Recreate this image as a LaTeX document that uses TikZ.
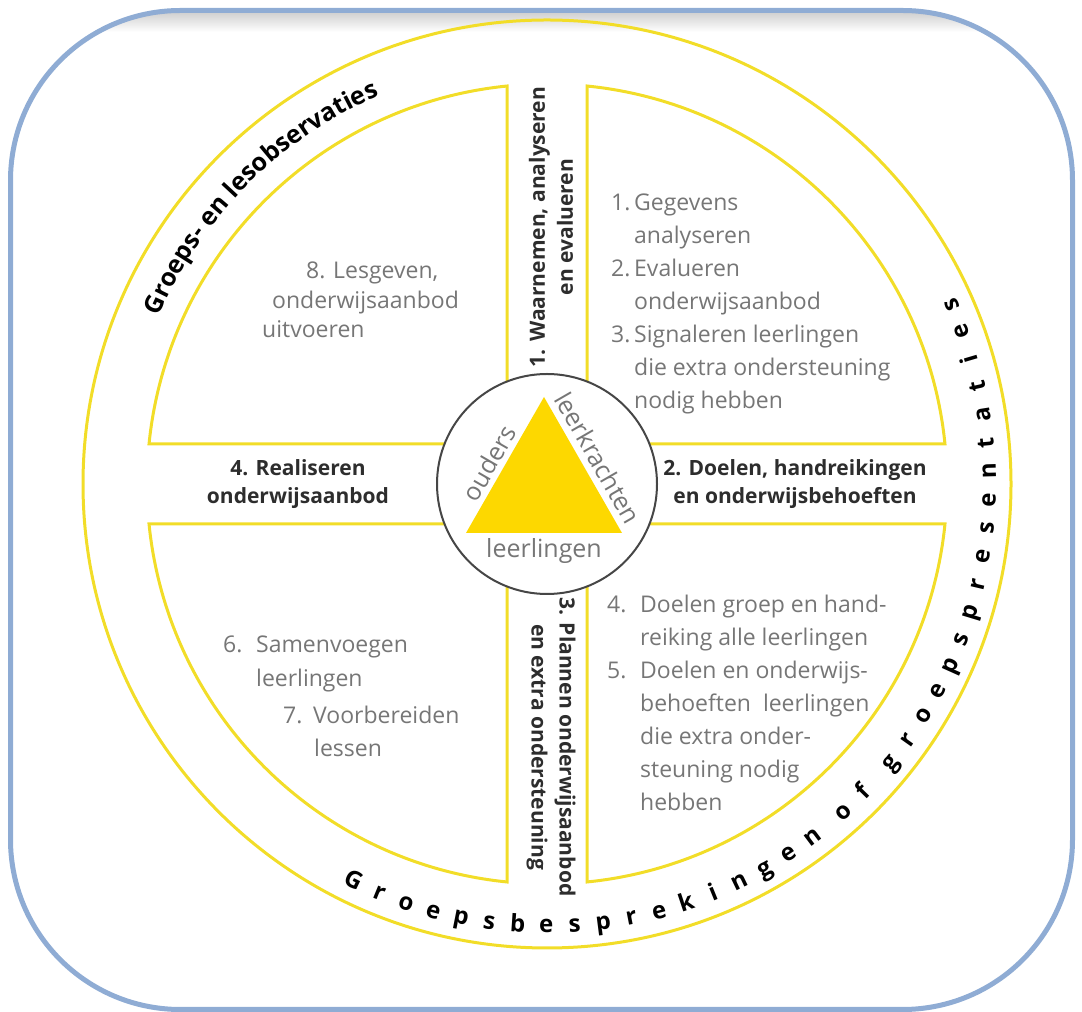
\documentclass[tikz,border=0pt]{standalone}
\usepackage{fontspec}
\setmainfont{Open Sans}
\usetikzlibrary{calc,decorations.text}
\definecolor{frameblue}{RGB}{143,172,212}
\definecolor{ringyellow}{RGB}{242,221,40}
\definecolor{triyellow}{RGB}{253,216,0}
\definecolor{greytext}{RGB}{118,118,118}
\definecolor{darktext}{RGB}{45,45,45}
\definecolor{hubline}{RGB}{70,70,70}
\begin{document}
\begin{tikzpicture}[x=1pt,y=1pt,
  yline/.style={draw=ringyellow, line width=3pt},
  gtxt/.style={text=greytext, font=\fontsize{23}{32}\selectfont, inner sep=0pt, anchor=base west},
  bandlbl/.style={text=darktext, font=\bfseries\fontsize{21}{28}\selectfont, align=center, inner sep=0pt},
  ringch/.style={text=black, font=\bfseries\fontsize{24}{28}\selectfont, inner sep=0pt, anchor=base},
  trilbl/.style={text=greytext, font=\fontsize{25}{28}\selectfont, inner sep=0pt}
]
\useasboundingbox (0,0) rectangle (1082,1012);
\coordinate (C) at (547,528);

% frame with soft top shadow
\begin{scope}
  \clip[rounded corners=170pt] (10.5,2.5) rectangle (1072.5,1001.5);
  \shade[top color=black!20, bottom color=white] (0,980) rectangle (1082,1001.5);
\end{scope}
\draw[frameblue, line width=5pt, rounded corners=170pt] (10.5,2.5) rectangle (1072.5,1001.5);

% outer ring
\draw[yline] (C) circle (464);

% four quadrants
\foreach \sx/\sy/\a/\b in {1/1/84.26/5.74, -1/1/95.74/174.26, -1/-1/185.74/264.26, 1/-1/354.26/275.74}
  \draw[yline] ($(C)+(\sx*40,\sy*40)$) -- ($(C)+(\a:400)$) arc[start angle=\a, end angle=\b, radius=400] -- cycle;

% hub
\node[circle, draw=hubline, line width=2pt, fill=white, minimum size=220pt, inner sep=0pt] (hub) at (C) {};
\fill[triyellow] ($(C)+(-3,87)$) -- ($(C)+(-81,-49)$) -- ($(C)+(75,-49)$) -- cycle;
\node[trilbl, rotate=60] (ouders) at ($(C)+(-58,21)$) {ouders};
\node[trilbl, rotate=-60] (leerkrachten) at ($(C)+(51,26)$) {leerkrachten};
\node[trilbl] (leerlingen) at ($(C)+(-3,-67)$) {leerlingen};

% band labels
\node[bandlbl, rotate=90] (stap1) at (551,785) {1. Waarnemen, analyseren\\en evalueren};
\node[bandlbl] (stap2) at (795,528) {2. Doelen, handreikingen\\en onderwijsbehoeften};
\node[bandlbl, rotate=-90] (stap3) at (551,265) {3. Plannen onderwijsaanbod\\en extra ondersteuning};
\node[bandlbl] (stap4) at (298,528) {4. Realiseren\\onderwijsaanbod};

% quadrant texts (top right)
\node[gtxt] (tr1) at (611,801) {\makebox[23pt][l]{1.}Gegevens};
\node[gtxt] (tr2) at (634,768) {analyseren};
\node[gtxt] (tr3) at (611,735) {\makebox[23pt][l]{2.}Evalueren};
\node[gtxt] (tr4) at (634,702) {onderwijsaanbod};
\node[gtxt] (tr5) at (611,669) {\makebox[23pt][l]{3.}Signaleren leerlingen};
\node[gtxt] (tr6) at (634,636) {die extra ondersteuning};
\node[gtxt] (tr7) at (634,603) {nodig hebben};

% bottom right
\node[gtxt] (br1) at (607,399) {\makebox[33pt][l]{4.}Doelen groep en hand-};
\node[gtxt] (br2) at (640,366) {reiking alle leerlingen};
\node[gtxt] (br3) at (607,333) {\makebox[33pt][l]{5.}Doelen en onderwijs-};
\node[gtxt] (br4) at (640,300) {behoeften\ \ leerlingen};
\node[gtxt] (br5) at (640,267) {die extra onder-};
\node[gtxt] (br6) at (640,234) {steuning nodig};
\node[gtxt] (br7) at (640,201) {hebben};

% bottom left
\node[gtxt] (bl1) at (223,359) {\makebox[33pt][l]{6.}Samenvoegen};
\node[gtxt] (bl2) at (256,325) {leerlingen};
\node[gtxt] (bl3) at (283,288) {\makebox[30pt][l]{7.}Voorbereiden};
\node[gtxt] (bl4) at (314,255) {lessen};

% top left
\node[gtxt] (tl1) at (306,733) {\makebox[27pt][l]{8.}Lesgeven,};
\node[gtxt] (tl2) at (272,703) {onderwijsaanbod};
\node[gtxt] (tl3) at (262,674) {uitvoeren};

% ring text top left
\path[decorate, decoration={text along path, text align=center,
  text={|\bfseries\fontsize{25}{30}\selectfont|Groeps- en lesobservaties}}]
  ($(C)+(162:423)$) arc[start angle=162, end angle=108, radius=423];

% ring text bottom / right (letter spaced)
\foreach \ch [count=\i from 0] in {G,r,o,e,p,s,b,e,s,p,r,e,k,i,n,g,e,n} {
  \pgfmathsetmacro\ang{244+\i*3.7}
  \node[ringch, rotate=\ang+90] (wa\i) at ($(C)+(\ang:449)$) {\ch};
}
\foreach \ch [count=\i from 0] in {o,f} {
  \pgfmathsetmacro\ang{244+(18.4+\i)*3.7}
  \node[ringch, rotate=\ang+90] (wb\i) at ($(C)+(\ang:449)$) {\ch};
}
\foreach \ch [count=\i from 0] in {g,r,o,e,p,s,p,r,e,s,e,n,t,a,t,i,e,s} {
  \pgfmathsetmacro\ang{244+(20.8+\i)*3.7}
  \node[ringch, rotate=\ang+90] (wc\i) at ($(C)+(\ang:449)$) {\ch};
}
\end{tikzpicture}
\end{document}
